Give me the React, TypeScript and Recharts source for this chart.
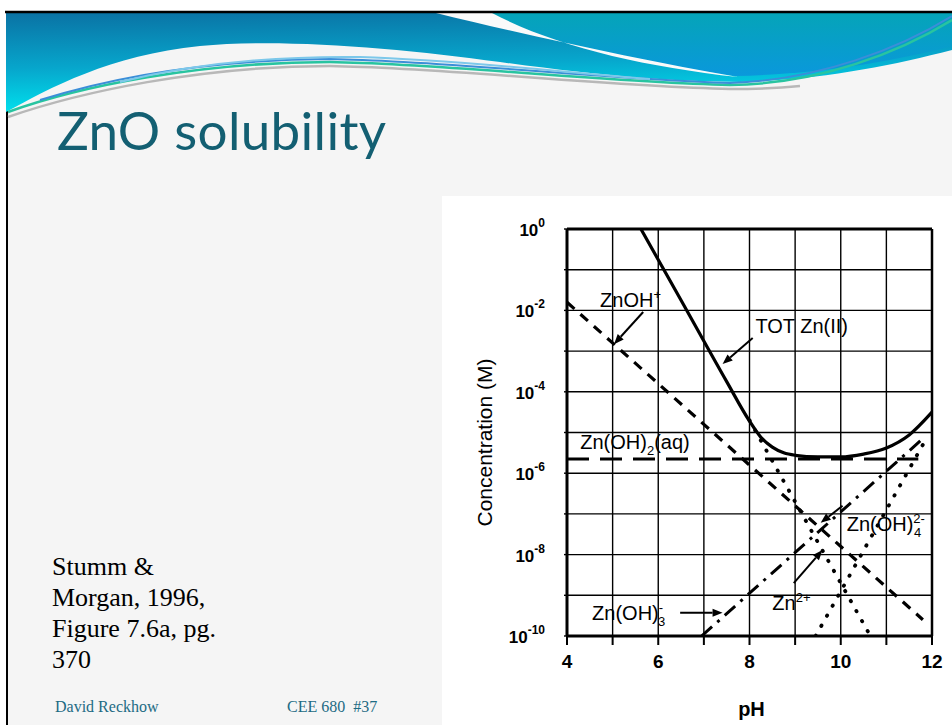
import React from 'react';
import {
  LineChart,
  Line,
  XAxis,
  YAxis,
  CartesianGrid,
  ReferenceLine,
  ReferenceDot,
  Label,
} from 'recharts';

// axis ticks
const phTicks = [4, 5, 6, 7, 8, 9, 10, 11, 12];
const logTicks = [0, -1, -2, -3, -4, -5, -6, -7, -8, -9, -10];

const totPh = [5.62, 6.5, 7.5, 8.0, 8.25, 8.5, 8.75, 9.0, 9.5, 10.0, 10.5, 11.0, 11.5, 12.0];
const totLog = [0, -1.75, -3.75, -4.72, -5.12, -5.36, -5.5, -5.56, -5.6, -5.6, -5.53, -5.38, -5.06, -4.5];
const znohPh = [4.0, 11.8];
const znohLog = [-1.8, -9.6];
const zn2Ph = [8.0, 10.65];
const zn2Log = [-4.7, -10];
const aqPh = [4.0, 11.7];
const aqLog = [-5.65, -5.65];
const oh3Ph = [6.95, 11.75];
const oh3Log = [-10, -5.2];
const oh4Ph = [9.45, 11.9];
const oh4Log = [-10, -5.1];

const zip = (xs: number[], ys: number[]) => xs.map((ph, i) => ({ ph, v: ys[i] }));

const FIG_FONT = '"Liberation Sans", Arial, sans-serif';
const TAG_SIZE = 20;

type Part = { t: string; k?: 'sup' | 'sub'; dx?: number };
const shift = { n: 0, sup: -8, sub: 6 };

const Tag = ({ cx, cy, parts }: { cx: number; cy: number; parts: Part[] }) => {
  let prev = 0;
  return (
    <text x={cx} y={cy} fontFamily={FIG_FONT} fontSize={TAG_SIZE} fill="#000">
      {parts.map((p, i) => {
        const off = shift[p.k || 'n'];
        const dy = off - prev;
        prev = off;
        return (
          <tspan key={i} dy={dy} dx={p.dx || 0} fontSize={p.k ? 13 : TAG_SIZE}>
            {p.t}
          </tspan>
        );
      })}
    </text>
  );
};

const tag = (parts: Part[]) => (props: any) => <Tag cx={props.cx} cy={props.cy} parts={parts} />;

const Arrow = (props: any) => {
  const { x1, y1, x2, y2 } = props;
  const a = Math.atan2(y2 - y1, x2 - x1);
  const L = 10;
  const W = 4;
  const bx = x2 - L * Math.cos(a);
  const by = y2 - L * Math.sin(a);
  const px = -Math.sin(a) * W;
  const py = Math.cos(a) * W;
  return (
    <g>
      <line x1={x1} y1={y1} x2={bx} y2={by} stroke="#000" strokeWidth={2} />
      <polygon points={`${x2},${y2} ${bx + px},${by + py} ${bx - px},${by - py}`} fill="#000" />
    </g>
  );
};

const XTick = (props: any) => {
  const { x, y, payload } = props;
  if (payload.value % 2 !== 0) return <g />;
  return (
    <text x={x} y={y + 23} textAnchor="middle" fontFamily={FIG_FONT} fontSize={19} fontWeight="bold" fill="#000">
      {payload.value}
    </text>
  );
};

const YTick = (props: any) => {
  const { x, y, payload } = props;
  if (payload.value % 2 !== 0) return <g />;
  return (
    <text x={x} y={y + 7} textAnchor="end" fontFamily={FIG_FONT} fontSize={17} fontWeight="bold" fill="#000">
      <tspan>10</tspan>
      <tspan dy={-9} fontSize={12}>{payload.value}</tspan>
    </text>
  );
};

const YTitle = (props: any) => {
  const vb = props.viewBox;
  const cx = vb.x - 23;
  const cy = vb.y + vb.height / 2 + 10;
  return (
    <text x={cx} y={cy} transform={`rotate(-90, ${cx}, ${cy})`} textAnchor="middle" dominantBaseline="central"
      fontFamily={FIG_FONT} fontSize={21} fill="#000">
      Concentration (M)
    </text>
  );
};

const XTitle = (props: any) => {
  const vb = props.viewBox;
  return (
    <text x={vb.x + vb.width / 2 + 2} y={vb.y + 80} textAnchor="middle" fontFamily={FIG_FONT} fontSize={20}
      fontWeight="bold" fill="#000">
      pH
    </text>
  );
};

const Solubility = () => (
  <LineChart width={510} height={529} margin={{ top: 25, right: 19, bottom: 49, left: 65 }}>
    <CartesianGrid stroke="#000" strokeWidth={1.4} />
    <XAxis
      dataKey="ph"
      type="number"
      domain={[4, 12]}
      ticks={phTicks}
      height={40}
      tickSize={9}
      tickMargin={0}
      axisLine={{ stroke: '#000', strokeWidth: 3 }}
      tickLine={{ stroke: '#000', strokeWidth: 2 }}
      tick={<XTick />}
      allowDataOverflow
    >
      <Label content={<XTitle />} />
    </XAxis>
    <XAxis
      xAxisId="top"
      orientation="top"
      type="number"
      domain={[4, 12]}
      ticks={phTicks}
      height={8}
      tickSize={8}
      axisLine={{ stroke: '#000', strokeWidth: 3 }}
      tickLine={{ stroke: '#000', strokeWidth: 2 }}
      tick={false}
    />
    <YAxis
      type="number"
      domain={[-10, 0]}
      ticks={logTicks}
      width={60}
      tickSize={3}
      tickMargin={19}
      axisLine={{ stroke: '#000', strokeWidth: 3 }}
      tickLine={{ stroke: '#000', strokeWidth: 1.4 }}
      tick={<YTick />}
      allowDataOverflow
    >
      <Label content={<YTitle />} />
    </YAxis>
    <YAxis
      yAxisId="r"
      orientation="right"
      type="number"
      domain={[-10, 0]}
      width={1}
      axisLine={{ stroke: '#000', strokeWidth: 2.5 }}
      tickLine={false}
      tick={false}
    />

    <Line data={zip(aqPh, aqLog)} dataKey="v" stroke="#000" strokeWidth={3} strokeDasharray="22 11" dot={false} isAnimationActive={false} />
    <Line data={zip(znohPh, znohLog)} dataKey="v" stroke="#000" strokeWidth={3.2} strokeDasharray="10 8" dot={false} isAnimationActive={false} />
    <Line data={zip(zn2Ph, zn2Log)} dataKey="v" stroke="#000" strokeWidth={3.8} strokeDasharray="0.5 11" strokeLinecap="round" dot={false} isAnimationActive={false} />
    <Line data={zip(oh4Ph, oh4Log)} dataKey="v" stroke="#000" strokeWidth={3.8} strokeDasharray="0.5 11" strokeLinecap="round" dot={false} isAnimationActive={false} />
    <Line data={zip(oh3Ph, oh3Log)} dataKey="v" stroke="#000" strokeWidth={3} strokeDasharray="14 7 3 7" dot={false} isAnimationActive={false} />
    <Line data={zip(totPh, totLog)} dataKey="v" type="monotone" stroke="#000" strokeWidth={3.2} dot={false} isAnimationActive={false} />

    <ReferenceLine segment={[{ x: 5.67, y: -2.04 }, { x: 5.03, y: -2.83 }]} shape={Arrow} />
    <ReferenceLine segment={[{ x: 8.07, y: -2.68 }, { x: 7.41, y: -3.32 }]} shape={Arrow} />
    <ReferenceLine segment={[{ x: 6.48, y: -9.43 }, { x: 7.41, y: -9.43 }]} shape={Arrow} />
    <ReferenceLine segment={[{ x: 8.97, y: -8.7 }, { x: 9.6, y: -7.89 }]} shape={Arrow} />
    <ReferenceLine segment={[{ x: 10.04, y: -6.8 }, { x: 9.56, y: -7.22 }]} shape={Arrow} />

    <ReferenceDot x={4.725} y={-1.92} r={1} shape={tag([{ t: 'ZnOH' }, { t: '+', k: 'sup' }])} />
    <ReferenceDot x={8.13} y={-2.56} r={1} shape={tag([{ t: 'TOT Zn(II)' }])} />
    <ReferenceDot x={4.29} y={-5.41} r={1} shape={tag([{ t: 'Zn(OH)' }, { t: '2', k: 'sub' }, { t: '(aq)' }])} />
    <ReferenceDot x={10.13} y={-7.42} r={1} shape={tag([{ t: 'Zn(OH)' }, { t: '2-', k: 'sup' }, { t: '4', k: 'sub', dx: -11 }])} />
    <ReferenceDot x={8.5} y={-9.36} r={1} shape={tag([{ t: 'Zn' }, { t: '2+', k: 'sup' }])} />
    <ReferenceDot x={4.55} y={-9.6} r={1} shape={tag([{ t: 'Zn(OH)' }, { t: '-', k: 'sup' }, { t: '3', k: 'sub', dx: -5 }])} />
  </LineChart>
);

const Header = () => (
  <svg width={952} height={130} style={{ position: 'absolute', left: 0, top: 0 }}>
    <defs>
      <linearGradient id="bandL" x1="0" y1="0" x2="0.15" y2="1">
        <stop offset="0" stopColor="#0a72a4" />
        <stop offset="0.55" stopColor="#07a6cc" />
        <stop offset="1" stopColor="#00e2ee" />
      </linearGradient>
      <linearGradient id="bandR" x1="0" y1="0" x2="0" y2="1">
        <stop offset="0" stopColor="#05a4b8" />
        <stop offset="1" stopColor="#0a98dc" />
      </linearGradient>
    </defs>
    <path
      d="M6,13 H952 V50 C890,66 820,80 740,82 C680,82 600,76 500,62 C400,48 280,38 200,46 C110,55 50,88 6,112 Z"
      fill="url(#bandL)"
    />
    <path d="M470,13 H952 V46 C890,62 820,74 735,76 C640,62 545,42 470,13 Z" fill="url(#bandR)" />
    <path d="M436,13 C530,36 640,60 738,77 C640,66 555,46 492,13 Z" fill="#fafafa" />
    <path d="M8,117 C80,92 200,66 330,66 C450,68 600,86 730,89 C760,89 780,88 800,86" fill="none" stroke="#b8b8b8" strokeWidth={2.5} />
    <path d="M8,112 C80,86 200,62 330,62 C450,64 600,82 730,85 C820,84 900,52 952,20" fill="none" stroke="#28c4a0" strokeWidth={2.5} />
    <path d="M40,100 C110,78 200,60 330,59 C450,61 600,79 730,83 C820,80 900,48 952,16" fill="none" stroke="#3b8ed8" strokeWidth={2} />
    <path d="M120,82 C200,62 280,56 360,57 C460,60 560,72 650,79" fill="none" stroke="#7cc8ea" strokeWidth={2} />
    <line x1={5} y1={12} x2={952} y2={12} stroke="#000" strokeWidth={2.5} />
  </svg>
);

export default function App() {
  return (
    <div style={{ position: 'absolute', left: 0, top: 0, width: 952, height: 725, background: '#fff', overflow: 'hidden' }}>
      <div style={{ position: 'absolute', left: 6, top: 12, width: 946, height: 713, background: '#f5f5f5', borderLeft: '2.5px solid #000' }} />
      <Header />
      <div style={{ position: 'absolute', left: 57, top: 98, fontFamily: 'Lato, "Open Sans", sans-serif', fontSize: 53, letterSpacing: 0.3, color: '#135f72', lineHeight: '64px', whiteSpace: 'nowrap' }}>
        ZnO solubility
      </div>
      <div style={{ position: 'absolute', left: 52, top: 551, fontFamily: '"Liberation Serif", "Times New Roman", serif', fontSize: 26, lineHeight: '31px', color: '#000' }}>
        Stumm &amp;<br />Morgan, 1996,<br />Figure 7.6a, pg.<br />370
      </div>
      <div style={{ position: 'absolute', left: 55, top: 698, fontFamily: '"Liberation Serif", "Times New Roman", serif', fontSize: 16, color: '#1d6b84', whiteSpace: 'nowrap' }}>
        David Reckhow
      </div>
      <div style={{ position: 'absolute', left: 287, top: 698, fontFamily: '"Liberation Serif", "Times New Roman", serif', fontSize: 16, color: '#1d6b84', whiteSpace: 'pre' }}>
        CEE 680  #37
      </div>
      <div style={{ position: 'absolute', left: 442, top: 196, width: 510, height: 529, background: '#fff' }}>
        <Solubility />
      </div>
    </div>
  );
}
